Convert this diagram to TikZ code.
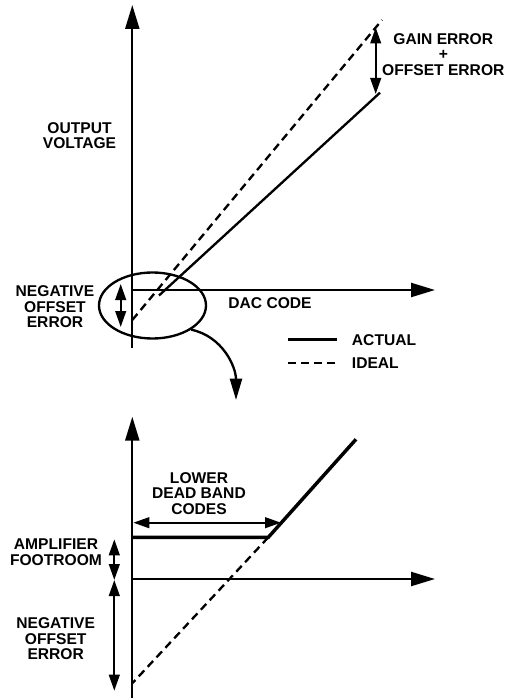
\documentclass[tikz,border=0pt]{standalone}
\usepackage{fontspec}
\setmainfont{Liberation Sans}
\usetikzlibrary{arrows.meta,positioning,shapes.geometric}

\begin{document}
\begin{tikzpicture}[x=0.75pt,y=-0.75pt,line join=miter,
  font=\fontsize{11.7}{11.7}\selectfont\bfseries,
  axis/.style={line width=1.75pt,-{Triangle[length=18pt,width=10.5pt]}},
  dimarrow/.style={line width=1.6pt,{Triangle[length=12pt,width=8pt]}-{Triangle[length=12pt,width=8pt]}},
  ideal/.style={line width=1.75pt,dash pattern=on 6pt off 3.75pt},
  actual/.style={line width=1.75pt},
  heavy/.style={line width=2.6pt},
  lbl/.style={align=center,inner sep=0pt}]
\path[use as bounding box] (0,0) rectangle (508,698);
% upper plot
\coordinate (ybot) at (132.3,348.3);
\coordinate (ytop) at (132.3,5);
\coordinate (xorg) at (132.3,290);
\coordinate (xend) at (435,290);
\draw[axis] (ybot) -- (ytop);
\draw[axis] (xorg) -- (xend);
\coordinate (ideal0) at (132.3,320);
\coordinate (ideal1) at (382,20);
\coordinate (act0) at (159,295.5);
\coordinate (act1) at (380,92.7);
\draw[ideal] (ideal0) -- (ideal1);
\draw[actual] (act0) -- (act1);
\coordinate (ge1) at (375.7,27.5);
\coordinate (ge2) at (375.7,94);
\draw[dimarrow] (ge1) -- (ge2);
\coordinate (no1) at (120.7,284);
\coordinate (no2) at (120.7,327);
\draw[dimarrow] (no1) -- (no2);
\node[ellipse,draw,line width=1.75pt,inner sep=0pt,minimum width=80.25pt,minimum height=49.5pt] (zoom) at (152.5,305.5) {};
\coordinate (zoomtip) at (236,400);
\draw[line width=1.75pt,-{Triangle[length=16pt,width=9pt]}] (zoom.-32) to[out=-12,in=90] (zoomtip);
\node[lbl] (gain) at (443.3,54.5) {GAIN ERROR\\+\\OFFSET ERROR};
\node[lbl] (outv) at (79.5,135.5) {OUTPUT\\VOLTAGE};
\node[lbl] (negtop) at (55,307) {NEGATIVE\\OFFSET\\ERROR};
\node[lbl] (dac) at (270,303.3) {DAC CODE};
% legend
\coordinate (leg1a) at (288,339.5);
\coordinate (leg1b) at (336.7,339.5);
\coordinate (leg2a) at (288,363);
\coordinate (leg2b) at (335,363);
\draw[actual] (leg1a) -- (leg1b);
\draw[ideal] (leg2a) -- (leg2b);
\node[lbl,anchor=west] (actlbl) at (351.7,340) {ACTUAL};
\node[lbl,anchor=west] (idllbl) at (351.7,363.3) {IDEAL};
% lower plot
\coordinate (ybot2) at (132.3,698);
\coordinate (ytop2) at (132.3,416.7);
\coordinate (xorg2) at (132.3,579);
\coordinate (xend2) at (435,579);
\draw[axis] (ybot2) -- (ytop2);
\draw[axis] (xorg2) -- (xend2);
\coordinate (flat0) at (132.3,537.3);
\coordinate (knee) at (268.3,537.3);
\coordinate (rise) at (356,439.3);
\coordinate (dash0) at (132.3,683.3);
\draw[heavy] (flat0) -- (knee) -- (rise);
\draw[ideal] (knee) -- (dash0);
\coordinate (db1) at (133.3,522.7);
\coordinate (db2) at (281,522.7);
\draw[dimarrow] (db1) -- (db2);
\coordinate (ft1) at (114.3,539.3);
\coordinate (ft2) at (114.3,580);
\coordinate (ne2) at (114.3,690.7);
\draw[dimarrow] (ft1) -- (ft2);
\draw[dimarrow] (ft2) -- (ne2);
\node[lbl] (dead) at (199,493.3) {LOWER\\DEAD BAND\\CODES};
\node[lbl] (foot) at (56,552.2) {AMPLIFIER\\FOOTROOM};
\node[lbl] (negbot) at (55.7,639) {NEGATIVE\\OFFSET\\ERROR};
\end{tikzpicture}
\end{document}
